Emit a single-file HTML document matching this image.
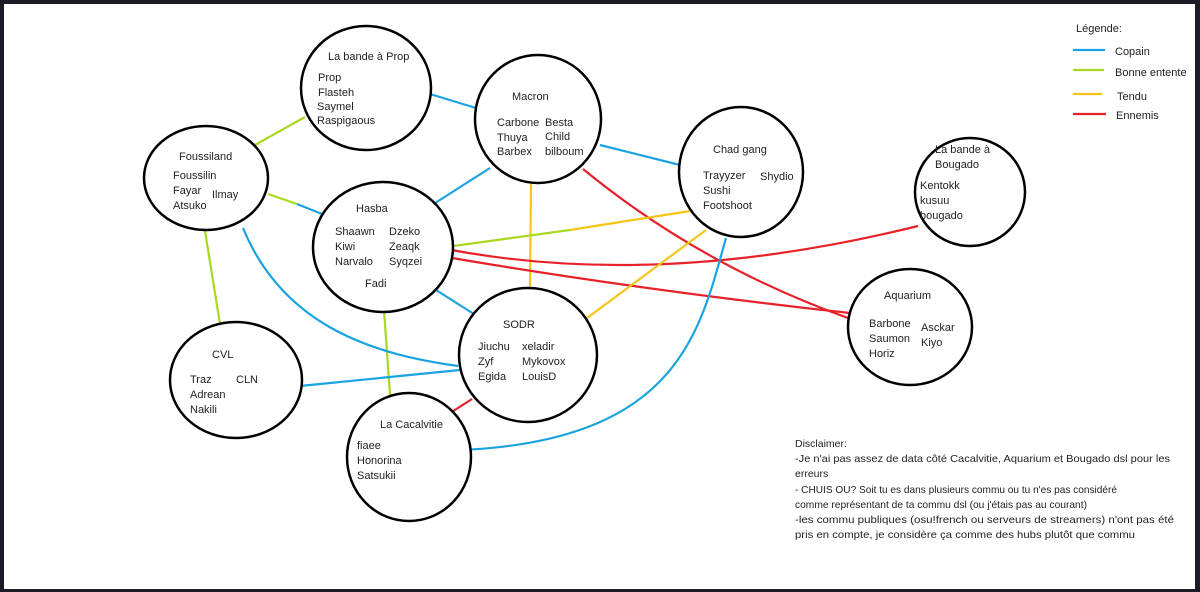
<!DOCTYPE html>
<html><head><meta charset="utf-8"><style>
html,body{margin:0;padding:0;background:#1e1b26;}
#w{position:absolute;left:4px;top:4px;width:1191px;height:585px;background:#fff;overflow:hidden;}
svg{position:absolute;left:-4px;top:-4px;}
text{font-family:"Liberation Sans",sans-serif;font-size:11px;fill:#222;}
.d{font-size:10.5px;}
</style></head><body><div id="w">
<svg width="1200" height="592" viewBox="0 0 1200 592">
<g fill="none" stroke-width="2.2">
<line x1="255" y1="145" x2="305" y2="117" stroke="#a8d820"/>
<line x1="268" y1="194" x2="297" y2="204" stroke="#a8d820"/>
<line x1="297" y1="204" x2="322" y2="214" stroke="#1aa3e0"/>
<line x1="430" y1="94" x2="476" y2="108" stroke="#1aa3e0"/>
<line x1="600" y1="145" x2="684" y2="166" stroke="#1aa3e0"/>
<line x1="490" y1="168" x2="432" y2="205" stroke="#1aa3e0"/>
<line x1="531" y1="184" x2="530" y2="290" stroke="#f5c518"/>
<path d="M583,169 Q700,265 848,318" stroke="#e8202a"/>
<line x1="446" y1="247" x2="570" y2="230" stroke="#a8d820"/>
<line x1="570" y1="230" x2="690" y2="211" stroke="#f5c518"/>
<path d="M446,249 Q660,290 918,226" stroke="#e8202a"/>
<path d="M446,257 Q640,290 850,313" stroke="#e8202a"/>
<line x1="436" y1="290" x2="477" y2="316" stroke="#1aa3e0"/>
<line x1="384" y1="310" x2="390" y2="395" stroke="#a8d820"/>
<line x1="706" y1="230" x2="583" y2="321" stroke="#f5c518"/>
<path d="M726,238 C700,330 680,440 462,450" stroke="#1aa3e0"/>
<path d="M243,228 C285,330 380,355 458,366" stroke="#1aa3e0"/>
<line x1="205" y1="231" x2="220" y2="324" stroke="#a8d820"/>
<line x1="300" y1="386" x2="460" y2="370" stroke="#1aa3e0"/>
<line x1="447" y1="415" x2="472" y2="399" stroke="#e8202a"/>
<line x1="1073" y1="50" x2="1105" y2="50" stroke="#1aa3e0"/>
<line x1="1073" y1="70" x2="1104" y2="70" stroke="#a8d820"/>
<line x1="1073" y1="94" x2="1102" y2="94" stroke="#f5c518"/>
<line x1="1073" y1="114" x2="1106" y2="114" stroke="#e8202a"/>
</g>
<g fill="#fff" stroke="#000" stroke-width="2.5">
<ellipse cx="366" cy="88" rx="65" ry="62"/>
<ellipse cx="538" cy="119" rx="63" ry="64"/>
<ellipse cx="206" cy="178" rx="62" ry="52"/>
<ellipse cx="383" cy="247" rx="70" ry="65"/>
<ellipse cx="741" cy="172" rx="62" ry="65"/>
<ellipse cx="970" cy="192" rx="55" ry="54"/>
<ellipse cx="910" cy="327" rx="62" ry="58"/>
<ellipse cx="528" cy="355" rx="69" ry="67"/>
<ellipse cx="236" cy="380" rx="66" ry="58"/>
<ellipse cx="409" cy="457" rx="62" ry="64"/>
</g>
<text x="328" y="60">La bande à Prop</text>
<text x="318" y="81">Prop</text><text x="318" y="96">Flasteh</text><text x="317" y="110">Saymel</text><text x="317" y="124">Raspigaous</text>
<text x="512" y="100">Macron</text>
<text x="497" y="126">Carbone</text><text x="545" y="126">Besta</text>
<text x="497" y="141">Thuya</text><text x="545" y="140">Child</text>
<text x="497" y="155">Barbex</text><text x="545" y="155">bilboum</text>
<text x="179" y="160">Foussiland</text>
<text x="173" y="179">Foussilin</text><text x="173" y="194">Fayar</text><text x="212" y="198">Ilmay</text><text x="173" y="209">Atsuko</text>
<text x="356" y="212">Hasba</text>
<text x="335" y="235">Shaawn</text><text x="389" y="235">Dzeko</text>
<text x="335" y="250">Kiwi</text><text x="389" y="250">Zeaqk</text>
<text x="335" y="265">Narvalo</text><text x="389" y="265">Syqzei</text>
<text x="365" y="287">Fadi</text>
<text x="713" y="153">Chad gang</text>
<text x="703" y="179">Trayyzer</text><text x="760" y="180">Shydio</text>
<text x="703" y="194">Sushi</text><text x="703" y="209">Footshoot</text>
<text x="935" y="153">La bande à</text><text x="935" y="168">Bougado</text>
<text x="920" y="189">Kentokk</text><text x="920" y="204">kusuu</text><text x="920" y="219">bougado</text>
<text x="884" y="299">Aquarium</text>
<text x="869" y="327">Barbone</text><text x="921" y="331">Asckar</text>
<text x="869" y="342">Saumon</text><text x="921" y="346">Kiyo</text>
<text x="869" y="357">Horiz</text>
<text x="503" y="328">SODR</text>
<text x="478" y="350">Jiuchu</text><text x="522" y="350">xeladir</text>
<text x="478" y="365">Zyf</text><text x="522" y="365">Mykovox</text>
<text x="478" y="380">Egida</text><text x="522" y="380">LouisD</text>
<text x="212" y="358">CVL</text>
<text x="190" y="383">Traz</text><text x="236" y="383">CLN</text>
<text x="190" y="398">Adrean</text><text x="190" y="413">Nakili</text>
<text x="380" y="428">La Cacalvitie</text>
<text x="357" y="449">fiaee</text><text x="357" y="464">Honorina</text><text x="357" y="479">Satsukii</text>
<text x="1076" y="32">Légende:</text>
<text x="1115" y="55">Copain</text>
<text x="1115" y="76">Bonne entente</text>
<text x="1117" y="100">Tendu</text>
<text x="1116" y="119">Ennemis</text>
<text class="d" x="795" y="447">Disclaimer:</text>
<text class="d" x="795" y="462" textLength="375" lengthAdjust="spacingAndGlyphs">-Je n'ai pas assez de data côté Cacalvitie, Aquarium et Bougado dsl pour les</text>
<text class="d" x="795" y="477">erreurs</text>
<text class="d" x="795" y="493" textLength="322" lengthAdjust="spacingAndGlyphs">- CHUIS OU? Soit tu es dans plusieurs commu ou tu n'es pas considéré</text>
<text class="d" x="795" y="508" textLength="292" lengthAdjust="spacingAndGlyphs">comme représentant de ta commu dsl (ou j'étais pas au courant)</text>
<text class="d" x="795" y="523" textLength="379" lengthAdjust="spacingAndGlyphs">-les commu publiques (osu!french ou serveurs de streamers) n'ont pas été</text>
<text class="d" x="795" y="538" textLength="340" lengthAdjust="spacingAndGlyphs">pris en compte, je considère ça comme des hubs plutôt que commu</text>
</svg></div></body></html>
